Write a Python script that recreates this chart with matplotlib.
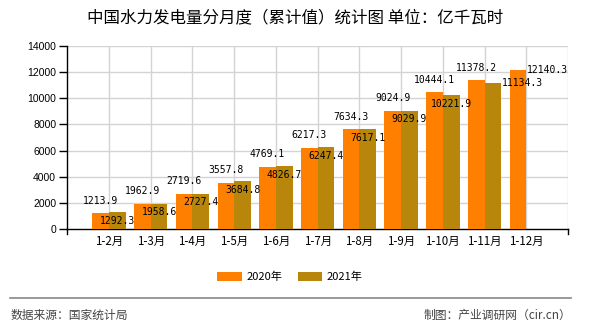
import matplotlib
matplotlib.use("Agg")
import matplotlib.pyplot as plt
from matplotlib.patches import Patch
from matplotlib.lines import Line2D

plt.rcParams['font.family'] = ['Noto Sans CJK SC', 'DejaVu Sans']

categories = ["1-2月", "1-3月", "1-4月", "1-5月", "1-6月", "1-7月",
              "1-8月", "1-9月", "1-10月", "1-11月", "1-12月"]
values_2020 = [1213.9, 1962.9, 2719.6, 3557.8, 4769.1, 6217.3,
               7634.3, 9024.9, 10444.1, 11378.2, 12140.3]
values_2021 = [1292.3, 1958.6, 2727.4, 3684.8, 4826.7, 6247.4,
               7617.1, 9029.9, 10221.9, 11134.3]
series_names = ["2020年", "2021年"]
yticks = [0, 2000, 4000, 6000, 8000, 10000, 12000, 14000]
title = "中国水力发电量分月度（累计值）统计图 单位：亿千瓦时"
source = "数据来源：国家统计局"
credit = "制图：产业调研网（cir.cn）"

c2020 = "#FF8000"
c2021 = "#B8860B"

W, H = 590, 330
fig = plt.figure(figsize=(W / 100, H / 100), dpi=100)
x0, x1 = 67.3, 568
y0, y1 = 229.3, 45.7
ax = fig.add_axes([x0 / W, 1 - y0 / H, (x1 - x0) / W, (y0 - y1) / H])

bw = 0.4
pos = list(range(1, len(categories) + 1))
p20 = [p - bw / 2 for p in pos]
p21 = [p + bw / 2 for p in pos[:len(values_2021)]]
ax.bar(p20, values_2020, width=bw, color=c2020, zorder=3)
ax.bar(p21, values_2021, width=bw, color=c2021, zorder=3)

ax.set_xlim(0, len(categories) + 1)
ax.set_ylim(0, 14000)

# grid
for y in yticks[1:]:
    ax.axhline(y, color="#D3D3D3", lw=1, zorder=1)
for p in pos + [len(categories) + 1]:
    ax.axvline(p, color="#D3D3D3", lw=1, zorder=1)

ax.set_yticks(yticks)
ax.set_yticklabels([str(v) for v in yticks], family="Liberation Sans", fontsize=7.5)
ax.tick_params(axis="y", length=5.5, width=1, pad=2.5, color="black")
ax.set_xticks(pos)
ax.set_xticklabels(categories, fontsize=8.3)
ax.tick_params(axis="x", length=0, pad=4)
ax.plot([0, 0], [0, -0.027], transform=ax.transAxes, color="black", lw=1, clip_on=False)
ax.plot([1, 1], [0, -0.027], transform=ax.transAxes, color="black", lw=1, clip_on=False)

for s in ["top", "right"]:
    ax.spines[s].set_visible(False)
for s in ["left", "bottom"]:
    ax.spines[s].set_color("black")
    ax.spines[s].set_linewidth(1)

lab_font = dict(family="DejaVu Sans Mono", fontsize=7.0, color="black", zorder=5)
for i, (p, v) in enumerate(zip(p20, values_2020)):
    if i == len(values_2020) - 1:
        ax.annotate(f"{v:.1f}", (p + bw / 2, v), xytext=(0.5, 0), textcoords="offset points",
                    ha="left", va="center", **lab_font)
    else:
        ax.annotate(f"{v:.1f}", (p, v), xytext=(0, 9), textcoords="offset points",
                    ha="center", va="center", **lab_font)
for i, (p, v) in enumerate(zip(p21, values_2021)):
    if i == len(values_2021) - 1:
        ax.annotate(f"{v:.1f}", (p + bw / 2, v), xytext=(0.5, 0), textcoords="offset points",
                    ha="left", va="center", **lab_font)
    else:
        ax.annotate(f"{v:.1f}", (p, v), xytext=(0, -6.2), textcoords="offset points",
                    ha="center", va="center", **lab_font)

fig.text(295 / W, 1 - 18 / H, title, ha="center", va="center", fontsize=11.9, color="black")

handles = [Patch(facecolor=c2020, edgecolor="none"), Patch(facecolor=c2021, edgecolor="none")]
fig.legend(handles, series_names, loc="center", bbox_to_anchor=(290 / W, 1 - 277 / H),
           ncol=2, frameon=False, fontsize=8, handlelength=2.2, handleheight=0.8,
           handletextpad=0.4, columnspacing=1.4)

fig.add_artist(Line2D([10 / W, 571 / W], [1 - 297.5 / H, 1 - 297.5 / H],
                      color="#888888", lw=1.2))
fig.text(11 / W, 1 - 315 / H, source, ha="left", va="center", fontsize=8.5, color="#444444")
fig.text(571 / W, 1 - 315 / H, credit, ha="right", va="center", fontsize=8.5, color="#444444")

fig.savefig("out.png", dpi=100)
